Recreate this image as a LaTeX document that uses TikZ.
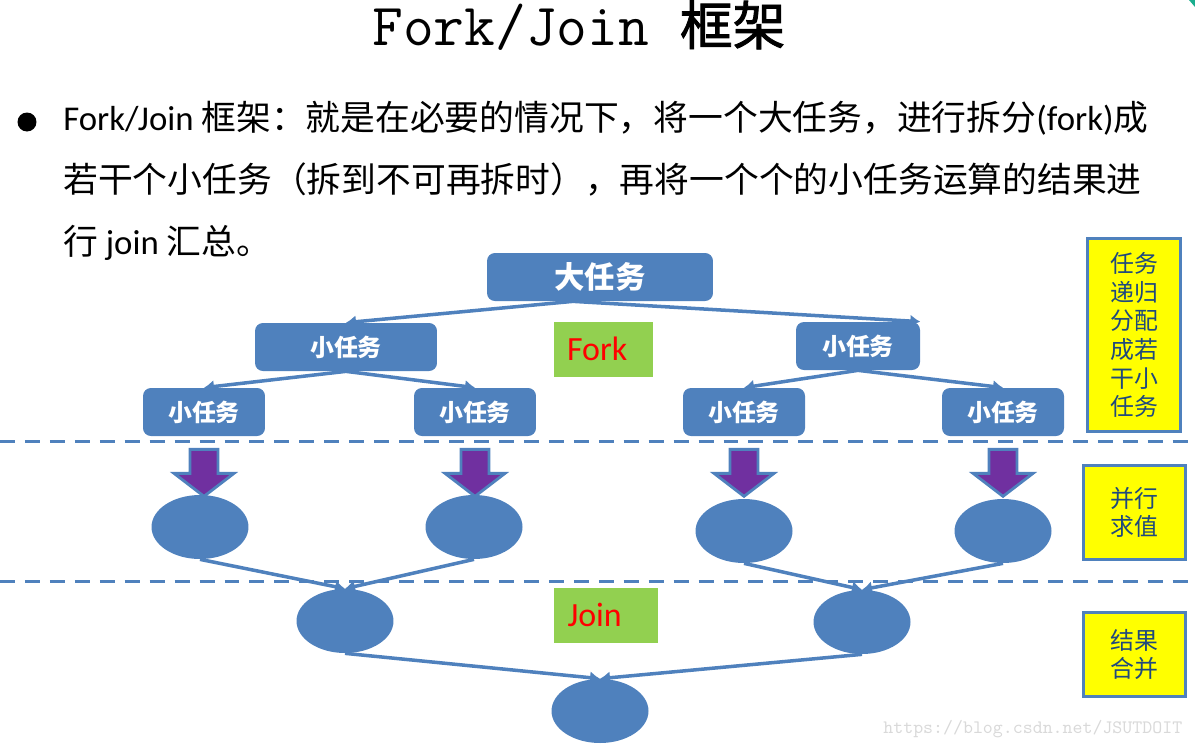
\documentclass[tikz,border=0pt]{standalone}
\usepackage{fontspec}
\setmainfont{Noto Sans CJK SC}
\newfontfamily\lat{Carlito}
\newfontfamily\titlecjk[FakeBold=1.6]{Noto Sans CJK SC}
\usetikzlibrary{arrows.meta,positioning,shapes.geometric,calc}
\definecolor{fjblue}{HTML}{4F81BD}
\definecolor{fjpurple}{HTML}{7030A0}
\definecolor{fjgreen}{HTML}{92D050}
\definecolor{fjyellow}{HTML}{FFFF00}
\definecolor{fjtext}{HTML}{1F497D}
\definecolor{fjteal}{HTML}{1AAE8E}
\tikzset{
  taskbox/.style={fill=fjblue,rounded corners=4.5pt,text=white,font=\fontsize{13.6}{16}\selectfont\bfseries,minimum width=2.44cm,minimum height=0.96cm,inner sep=0pt},
  calcnode/.style={ellipse,fill=fjblue,minimum width=1.94cm,minimum height=1.28cm,inner sep=0pt},
  notebox/.style={fill=fjgreen,text=red,font=\lat\fontsize{19.3}{22}\selectfont,align=left,inner xsep=0.27cm,inner ysep=0pt,minimum height=1.1cm},
  stagebox/.style={draw=fjblue,line width=1.6pt,fill=fjyellow,text=fjtext,font=\fontsize{13.6}{16.3}\selectfont,align=center,inner sep=0pt},
  link/.style={draw=fjblue,line width=2pt,-{Latex[length=2mm,width=2.6mm]}},
  sepline/.style={draw=fjblue,line width=1.7pt,dash pattern=on 8.5pt off 5.7pt},
  pusharrow/.style={draw=fjblue,line width=1.6pt,fill=fjpurple,line join=miter},
  bodyline/.style={anchor=base west,inner sep=0pt,font=\fontsize{19.8}{24}\selectfont}
}

\begin{document}
\begin{tikzpicture}[x=0.02cm,y=-0.02cm,>=Latex]
\useasboundingbox (0,0) rectangle (1195,747);
\fill[fjteal] (1189,0) -- (1195,0) -- (1195,7) -- cycle;

% title and text
\node[anchor=base west,inner sep=0pt,font=\fontsize{34}{40}\selectfont] (title) at (372,45) {\ttfamily Fork/Join {\titlecjk\fontsize{30}{36}\selectfont 框架}};
\node[circle,fill=black,minimum size=0.38cm,inner sep=0pt] (bul_dot) at (27,122) {};
\node[bodyline] (bul_a) at (63,130) {{\lat Fork/Join} 框架：就是在必要的情况下，将一个大任务，进行拆分{\lat (fork)}成};
\node[bodyline] (bul_b) at (63,192) {若干个小任务（拆到不可再拆时），再将一个个的小任务运算的结果进};
\node[bodyline] (bul_c) at (63,254) {行 {\lat join} 汇总。};

% fork
\node[taskbox,minimum width=4.52cm,font=\fontsize{17.3}{20}\selectfont\bfseries] (t_big) at (600,277) {大任务};
\node[taskbox,minimum width=3.64cm] (t_l) at (346,347) {小任务};
\node[taskbox,minimum width=2.48cm] (t_r) at (858,346) {小任务};
\node[taskbox] (t_ll) at (204,412) {小任务};
\node[taskbox] (t_lr) at (475,412) {小任务};
\node[taskbox] (t_rl) at (744,412) {小任务};
\node[taskbox] (t_rr) at (1003,412) {小任务};
\node[notebox,text width=1.44cm] (n_fork) at (603,349) {Fork};

\draw[link] ($(t_big.south)+(-27,0)$) -- (t_l.north);
\draw[link] ($(t_big.south)+(-27,0)$) -- (t_r.north east);
\draw[link] (t_l.south) -- (t_ll.north);
\draw[link] (t_l.south) -- (t_lr.north);
\draw[link] (t_r.south) -- (t_rl.north);
\draw[link] (t_r.south) -- (t_rr.north);

\draw[sepline] (0,441) -- (1195,441);
\draw[sepline] (0,581) -- (1195,581);

% compute
\node[calcnode] (c_ll) at (200,527) {};
\node[calcnode] (c_lr) at (474,527) {};
\node[calcnode] (c_rl) at (744,531) {};
\node[calcnode] (c_rr) at (1003,531) {};
\foreach \a in {t_ll,t_lr,t_rl,t_rr}
  \draw[pusharrow] ($(\a.south)+(-14,13)$) -- ++(28,0) -- ++(0,24) -- ++(16,0) -- ++(-30,23) -- ++(-30,-23) -- ++(16,0) -- cycle;

% join
\node[calcnode] (j_l) at (345,621) {};
\node[calcnode] (j_r) at (862,622) {};
\node[calcnode] (j_root) at (600,711) {};
\node[notebox,text width=1.54cm] (n_join) at (606,615) {Join};

\draw[link] (c_ll.south) -- (j_l.north);
\draw[link] (c_lr.south) -- (j_l.north);
\draw[link] (c_rl.south) -- (j_r.north);
\draw[link] (c_rr.south) -- (j_r.north);
\draw[link] (j_l.south) -- (j_root.north);
\draw[link] (j_r.south) -- (j_root.north);

% stages
\node[stagebox,minimum width=1.86cm,minimum height=3.86cm] (s_split) at (1134,335) {任务\\递归\\分配\\成若\\干小\\任务};
\node[stagebox,minimum width=2.04cm,minimum height=1.88cm] (s_calc) at (1134.5,512.5) {并行\\求值};
\node[stagebox,minimum width=2.04cm,minimum height=1.68cm] (s_merge) at (1134.5,654.5) {结果\\合并};

\node[anchor=base west,inner sep=0pt,text=black!15,font=\ttfamily\fontsize{10.8}{12}\selectfont] (mark) at (883,733) {https://blog.csdn.net/JSUTDOIT};
\end{tikzpicture}
\end{document}
